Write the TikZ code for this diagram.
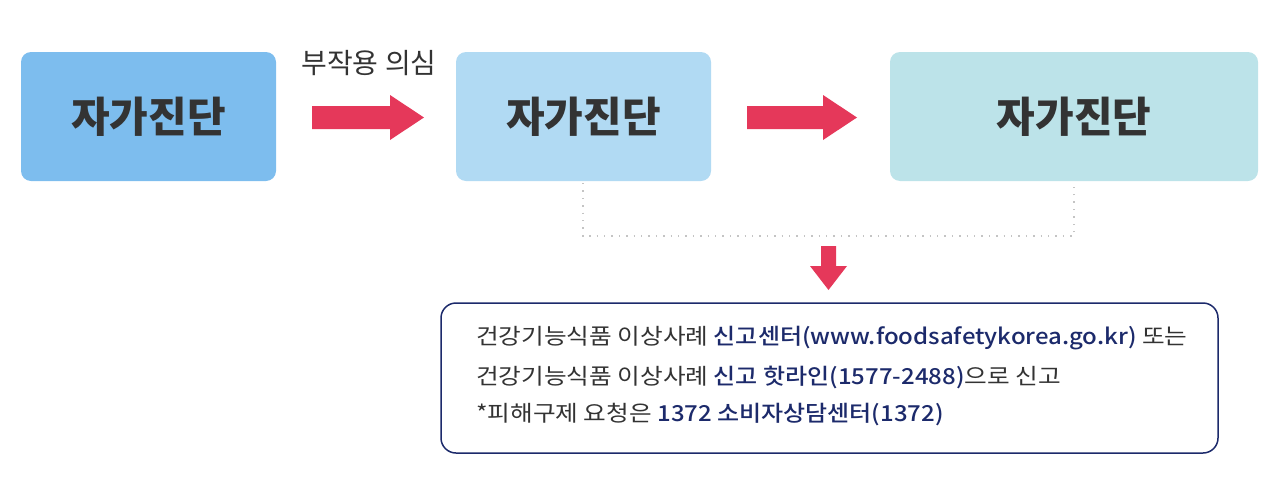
\documentclass[tikz,border=0pt]{standalone}
\usepackage{fontspec}
\newfontfamily\kr{Noto Sans CJK KR}
\newfontfamily\krt[FakeStretch=1.12]{Noto Sans CJK KR}
\newfontfamily\krmed[FakeStretch=1.09]{Noto Sans CJK KR Medium}
\usetikzlibrary{positioning}
\definecolor{boxA}{HTML}{7DBDEE}
\definecolor{boxB}{HTML}{B1DAF3}
\definecolor{boxC}{HTML}{BCE3E9}
\definecolor{arrowred}{HTML}{E5385A}
\definecolor{navy}{HTML}{1C2A6B}
\definecolor{txt}{HTML}{333333}
\definecolor{dotgray}{HTML}{C4C4C4}
\tikzset{
  stepbox/.style={inner sep=0pt, text=txt,
    font=\kr\bfseries\fontsize{42}{50}\selectfont},
  fatarrow/.style={fill=arrowred, draw=none},
  infobox/.style={draw=navy, line width=1.5pt, rounded corners=15pt, fill=white},
  infotext/.style={anchor=west, inner sep=0pt, text=txt, font=\krt\fontsize{22}{26}\selectfont}
}
\newcommand{\hlt}[1]{{\krmed\color{navy}#1}}
\begin{document}
\begin{tikzpicture}[x=1pt,y=-1pt]
\useasboundingbox (0,0) rectangle (1280,501);
% boxes
\fill[boxA, rounded corners=10pt] (21,52) rectangle (276,181);
\fill[boxB, rounded corners=10pt] (456,52) rectangle (711,181);
\fill[boxC, rounded corners=10pt] (890,52) rectangle (1258,181);
\node[stepbox] (b1) at (148.5,117) {자가진단};
\node[stepbox] (b2) at (583.5,117) {자가진단};
\node[stepbox] (b3) at (1074,117) {자가진단};
% label
\node[text=txt, font=\kr\fontsize{28}{32}\selectfont, inner sep=0pt] (lab) at (369,63.5) {부작용 의심};
% arrows
\fill[fatarrow] (312,106) -- (390,106) -- (390,95) -- (424,117.5) -- (390,140) -- (390,129) -- (312,129) -- cycle;
\fill[fatarrow] (747,106) -- (823,106) -- (823,95) -- (857,117.5) -- (823,140) -- (823,129) -- (747,129) -- cycle;
% dotted connector
\coordinate (d1) at (583,183);
\coordinate (d2) at (1074,183);
\draw[dotgray, line width=1.4pt, dash pattern=on 1.4pt off 6pt] (d1) -- (583,236) -- (1074,236) -- (d2);
% down arrow
\fill[fatarrow] (821,246) -- (836,246) -- (836,266) -- (847,266) -- (828.5,290) -- (810,266) -- (821,266) -- cycle;
% info box
\draw[infobox] (441,303) rectangle (1218,453);
\node[infotext] (l1) at (476,338) {건강기능식품 이상사례 \hlt{신고센터(www.foodsafetykorea.go.kr)} 또는};
\node[infotext] (l2) at (476,377) {건강기능식품 이상사례 \hlt{신고 핫라인(1577-2488)}으로 신고};
\node[infotext] (l3) at (476,415) {*피해구제 요청은 \hlt{1372 소비자상담센터(1372)}};
\end{tikzpicture}
\end{document}
